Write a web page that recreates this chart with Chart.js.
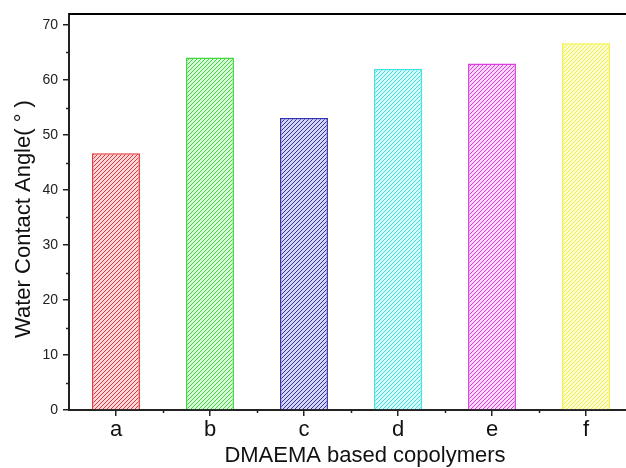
<!DOCTYPE html>
<html>
<head>
<meta charset="utf-8">
<script src="https://cdn.jsdelivr.net/npm/chart.js@4.4.1/dist/chart.umd.min.js"></script>
<style>
html,body{margin:0;padding:0;background:#fff;overflow:hidden;}
#wrap{width:626px;height:468px;overflow:hidden;position:relative;}
#box{width:660px;height:468px;position:absolute;left:0;top:0;}
</style>
</head>
<body>
<div id="wrap"><div id="box"><canvas id="c" width="660" height="468"></canvas></div></div>
<script>
const categories = ['a','b','c','d','e','f'];
const contactAngles = [46.7, 64.1, 53.1, 62.0, 63.0, 66.7];
const barColors = ['#e8383d','#3fd83f','#3232b0','#3fe0e0','#e03fe0','#f2f23a'];
const yTickValues = [0,10,20,30,40,50,60,70];
const yTitle = 'Water Contact Angle( \u00B0 )';
const xTitle = 'DMAEMA based copolymers';

function hatch(color){
  const s = 4;
  const c = document.createElement('canvas');
  c.width = s; c.height = s;
  const g = c.getContext('2d');
  g.fillStyle = '#fff'; g.fillRect(0,0,s,s);
  g.fillStyle = color;
  g.globalAlpha = 0.2; g.fillRect(0,0,s,s);
  for (let i = 0; i < s; i++){
    g.globalAlpha = 1;
    g.fillRect(i, s-1-i, 1, 1);
  }
  g.globalAlpha = 1;
  return g.createPattern(c,'repeat');
}

const axisPlugin = {
  id:'axisDeco',
  afterDraw(chart){
    const ctx = chart.ctx, a = chart.chartArea;
    const x = chart.scales.x, y = chart.scales.y;
    ctx.save();
    ctx.strokeStyle = '#222'; ctx.lineWidth = 1.5;
    ctx.beginPath();
    for (let v = 5; v < 72; v += 10){
      const py = Math.round(y.getPixelForValue(v))+0.5;
      ctx.moveTo(a.left-3, py); ctx.lineTo(a.left, py);
    }
    const step = x.getPixelForValue(1) - x.getPixelForValue(0);
    for (let i = 0; i < categories.length; i++){
      const px = Math.round(x.getPixelForValue(i) + step/2)+0.5;
      ctx.moveTo(px, a.bottom); ctx.lineTo(px, a.bottom+3);
    }
    ctx.stroke();
    ctx.strokeStyle = '#000'; ctx.lineWidth = 2;
    ctx.beginPath(); ctx.moveTo(a.left, a.top); ctx.lineTo(a.right, a.top); ctx.stroke();
    ctx.fillStyle = '#111';
    ctx.font = '22px "Liberation Sans", Arial, sans-serif';
    ctx.textAlign = 'center'; ctx.textBaseline = 'alphabetic';
    ctx.fillText(xTitle, 365, 462);
    ctx.translate(30, 219); ctx.rotate(-Math.PI/2);
    ctx.fillText(yTitle, 0, 0);
    ctx.restore();
  }
};

new Chart(document.getElementById('c'), {
  type:'bar',
  data:{
    labels: categories,
    datasets:[{
      data: contactAngles,
      backgroundColor: barColors.map(hatch),
      borderColor: barColors,
      borderWidth: 1.5,
      barPercentage: 0.51,
      categoryPercentage: 1.0
    }]
  },
  plugins:[axisPlugin],
  options:{
    responsive:false,
    animation:false,
    devicePixelRatio:1,
    layout:{padding:{top:14,right:27,left:0,bottom:0}},
    plugins:{legend:{display:false},tooltip:{enabled:false}},
    scales:{
      x:{
        offset:true,
        grid:{display:true,drawOnChartArea:false,drawTicks:true,tickLength:6,color:'#222',lineWidth:1.5,offset:false},
        border:{display:true,color:'#222',width:2},
        ticks:{color:'#111',font:{size:22,family:'"Liberation Sans", Arial, sans-serif'},padding:1},
        afterFit(s){ s.height = 58; }
      },
      y:{
        min:0,max:72,
        grid:{display:true,drawOnChartArea:false,drawTicks:true,tickLength:6,color:'#222',lineWidth:1.5},
        border:{display:true,color:'#222',width:2},
        ticks:{stepSize:10,color:'#222',font:{size:14,family:'"Liberation Sans", Arial, sans-serif'},padding:5},
        afterBuildTicks(s){ s.ticks = yTickValues.map(v=>({value:v})); },
        afterFit(s){ s.width = 69; }
      }
    }
  }
});
</script>
</body>
</html>
